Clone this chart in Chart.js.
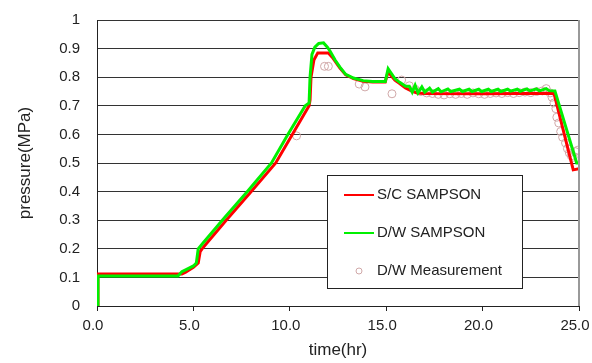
<!DOCTYPE html>
<html>
<head>
<meta charset="utf-8">
<script src="https://cdn.jsdelivr.net/npm/chart.js@4.4.1/dist/chart.umd.min.js"></script>
<style>
  html, body { margin: 0; padding: 0; background: #fff; }
  #wrap { width: 592px; height: 363px; }
</style>
</head>
<body>
<div id="wrap"><canvas id="pressureChart" width="592" height="363"></canvas></div>
<script>
// S/C SAMPSON (red)
const scTime = [0, 0.05, 4.4, 4.6, 5.0, 5.25, 5.35, 5.45, 5.7, 6.7, 8.0, 9.27, 10.13, 11.0, 11.05, 11.1, 11.25, 11.45, 12.0, 12.2, 12.6, 12.9, 13.3, 13.8, 14.3, 14.95, 15.1, 15.2, 15.45, 15.7, 16.0, 16.3, 16.6, 17.0, 20.0, 23.7, 24.7, 25.0];
const scPressure = [0, 0.112, 0.112, 0.118, 0.135, 0.15, 0.19, 0.2, 0.22, 0.30, 0.40, 0.50, 0.60, 0.70, 0.72, 0.80, 0.86, 0.885, 0.885, 0.87, 0.832, 0.808, 0.795, 0.786, 0.783, 0.783, 0.82, 0.81, 0.79, 0.778, 0.762, 0.752, 0.745, 0.743, 0.742, 0.744, 0.476, 0.48];

// D/W SAMPSON (green)
const dwTime = [0, 0.05, 4.2, 4.4, 4.7, 5.0, 5.15, 5.25, 5.5, 6.5, 7.8, 9.05, 9.9, 10.8, 11.0, 11.05, 11.15, 11.3, 11.5, 11.75, 11.95, 12.1, 12.35, 12.6, 12.9, 13.3, 13.8, 14.3, 14.95, 15.1, 15.2, 15.45, 15.7, 16.0, 16.2, 16.35, 16.5, 16.65, 16.85, 17.0, 17.25, 17.4, 17.7, 17.85, 18.2, 18.35, 18.8, 18.95, 19.3, 19.45, 19.8, 19.95, 20.3, 20.45, 20.8, 20.95, 21.3, 21.45, 21.8, 21.95, 22.3, 22.45, 22.8, 22.95, 23.3, 23.45, 23.75, 24.88, 25.0];
const dwPressure = [0, 0.105, 0.105, 0.12, 0.13, 0.14, 0.15, 0.2, 0.22, 0.30, 0.40, 0.50, 0.60, 0.70, 0.71, 0.80, 0.88, 0.905, 0.918, 0.92, 0.905, 0.89, 0.86, 0.835, 0.81, 0.797, 0.788, 0.785, 0.785, 0.83, 0.82, 0.795, 0.782, 0.768, 0.768, 0.748, 0.772, 0.745, 0.766, 0.748, 0.762, 0.748, 0.760, 0.749, 0.759, 0.750, 0.758, 0.750, 0.758, 0.750, 0.758, 0.750, 0.758, 0.750, 0.758, 0.750, 0.758, 0.751, 0.758, 0.751, 0.759, 0.752, 0.759, 0.752, 0.760, 0.753, 0.752, 0.50, 0.50];

// D/W Measurement (circles)
const measTime = [10.35, 11.8, 12.0, 13.6, 13.9, 15.3, 15.8, 16.2, 16.5, 16.8, 17.1, 17.4, 17.7, 18.0, 18.3, 18.6, 18.9, 19.2, 19.5, 19.8, 20.1, 20.4, 20.7, 21.0, 21.3, 21.6, 21.9, 22.2, 22.5, 22.8, 23.1, 23.3, 23.5, 23.6, 23.7, 23.8, 23.85, 23.95, 24.05, 24.15, 24.3, 24.4, 24.5, 24.6, 24.7, 24.8, 24.95];
const measPressure = [0.595, 0.838, 0.838, 0.776, 0.766, 0.742, 0.79, 0.77, 0.758, 0.750, 0.745, 0.743, 0.740, 0.738, 0.742, 0.740, 0.743, 0.740, 0.745, 0.742, 0.740, 0.743, 0.745, 0.743, 0.746, 0.743, 0.746, 0.748, 0.746, 0.750, 0.752, 0.760, 0.745, 0.73, 0.71, 0.69, 0.66, 0.64, 0.61, 0.59, 0.57, 0.55, 0.535, 0.525, 0.52, 0.54, 0.545];

const xTicks = [0, 5, 10, 15, 20, 25];
const yTicks = [0, 0.1, 0.2, 0.3, 0.4, 0.5, 0.6, 0.7, 0.8, 0.9, 1];

const toPoints = (xs, ys) => xs.map((x, i) => ({ x: x, y: ys[i] }));

const FONT = '"Liberation Sans", Arial, sans-serif';
const TEXT = '#222';
const GREEN = '#00f000';

// legend box inside the plot plus the grey right border
const boxPlugin = {
    id: 'boxPlugin',
    afterDraw(chart) {
        const ctx = chart.ctx;
        const a = chart.chartArea;
        ctx.save();
        ctx.strokeStyle = '#999';
        ctx.lineWidth = 2;
        ctx.beginPath();
        ctx.moveTo(a.right, a.top);
        ctx.lineTo(a.right, a.bottom);
        ctx.stroke();

        ctx.fillStyle = '#fff';
        ctx.fillRect(327, 175, 195, 113);
        ctx.strokeStyle = '#222';
        ctx.lineWidth = 1;
        ctx.strokeRect(327.5, 175.5, 195, 113);

        ctx.lineWidth = 2;
        ctx.strokeStyle = '#ff0000';
        ctx.beginPath(); ctx.moveTo(344, 195); ctx.lineTo(374, 195); ctx.stroke();
        ctx.strokeStyle = GREEN;
        ctx.beginPath(); ctx.moveTo(344, 233); ctx.lineTo(374, 233); ctx.stroke();
        ctx.lineWidth = 1;
        ctx.strokeStyle = '#d0a8a8';
        ctx.beginPath(); ctx.arc(359, 271, 3, 0, Math.PI * 2); ctx.stroke();

        ctx.fillStyle = TEXT;
        ctx.font = '15px ' + FONT;
        ctx.textBaseline = 'middle';
        ctx.fillText('S/C SAMPSON', 377, 195);
        ctx.fillText('D/W SAMPSON', 377, 233);
        ctx.fillText('D/W Measurement', 377, 271);
        ctx.restore();
    }
};

new Chart(document.getElementById('pressureChart'), {
    type: 'scatter',
    data: {
        datasets: [
            {
                label: 'D/W SAMPSON',
                data: toPoints(dwTime, dwPressure),
                showLine: true,
                borderColor: GREEN,
                borderWidth: 3,
                pointRadius: 0,
                tension: 0,
                order: 1
            },
            {
                label: 'S/C SAMPSON',
                data: toPoints(scTime, scPressure),
                showLine: true,
                borderColor: '#ff0000',
                borderWidth: 3,
                pointRadius: 0,
                tension: 0,
                order: 2
            },
            {
                label: 'D/W Measurement',
                data: toPoints(measTime, measPressure),
                showLine: false,
                borderColor: '#d0a8a8',
                backgroundColor: 'rgba(0,0,0,0)',
                borderWidth: 1,
                pointRadius: 4,
                order: 3
            }
        ]
    },
    options: {
        responsive: false,
        animation: false,
        devicePixelRatio: 1,
        layout: { padding: { left: 0, top: 20, right: 13, bottom: 0 } },
        plugins: {
            legend: { display: false },
            tooltip: { enabled: false }
        },
        scales: {
            x: {
                type: 'linear',
                min: 0,
                max: 25,
                afterFit: s => { s.height = 57; s.paddingLeft = 0; s.paddingRight = 0; },
                afterBuildTicks: s => { s.ticks = xTicks.map(v => ({ value: v })); },
                grid: { drawOnChartArea: false, drawTicks: true, tickLength: 5, color: '#222' },
                border: { color: '#222', width: 1 },
                ticks: {
                    padding: 6,
                    labelOffset: -4,
                    color: TEXT,
                    font: { family: FONT, size: 15 },
                    callback: v => v.toFixed(1)
                },
                title: {
                    display: true,
                    text: 'time(hr)',
                    color: TEXT,
                    font: { family: FONT, size: 17 },
                    padding: { top: 0, bottom: 2 }
                }
            },
            y: {
                min: 0,
                max: 1,
                afterFit: s => { s.width = 97; s.paddingTop = 0; s.paddingBottom = 0; },
                afterBuildTicks: s => { s.ticks = yTicks.map(v => ({ value: v })); },
                grid: { color: '#333', lineWidth: 1, drawTicks: false },
                border: { color: '#222', width: 1 },
                ticks: {
                    padding: 17,
                    color: TEXT,
                    font: { family: FONT, size: 15 },
                    callback: v => String(Number(v.toFixed(1)))
                },
                title: {
                    display: true,
                    text: 'pressure(MPa)',
                    color: TEXT,
                    font: { family: FONT, size: 17 },
                    padding: { top: 15, bottom: 0 }
                }
            }
        }
    },
    plugins: [boxPlugin]
});
</script>
</body>
</html>
